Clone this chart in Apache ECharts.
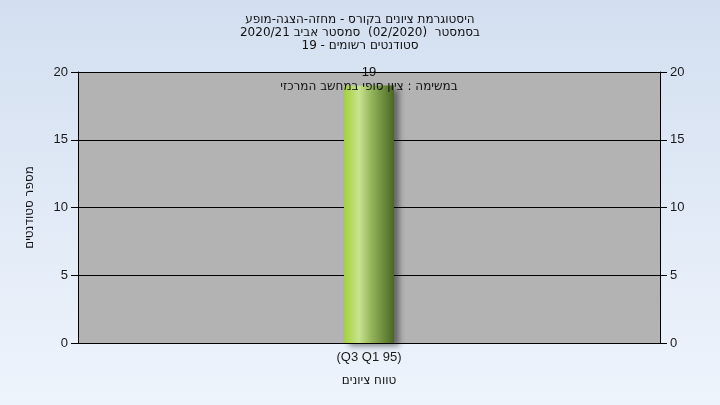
<!DOCTYPE html>
<html lang="he">
<head>
<meta charset="UTF-8">
<title>היסטוגרמת ציונים</title>
<script src="https://cdn.jsdelivr.net/npm/echarts@6/dist/echarts.min.js"></script>
<style>
  html, body { margin: 0; padding: 0; }
  body {
    width: 720px; height: 405px;
    background: linear-gradient(to bottom, #d3dff0, #eef4fc);
  }
  #main { width: 720px; height: 405px; }
</style>
</head>
<body>
<div id="main"></div>
<script>
  // נתונים
  const categories = ['(Q3 Q1 95)'];
  const counts = [19];
  const yTicks = { min: 0, max: 20, interval: 5 };
  const titleLines = [
    'היסטוגרמת ציונים בקורס - מחזה-הצגה-מופע',
    'בסמסטר  (02/2020)  סמסטר אביב 2020/21',
    'סטודנטים רשומים - 19'
  ];
  const barNote = 'במשימה : ציון סופי במחשב המרכזי';

  const chart = echarts.init(document.getElementById('main'));
  const axisText = { color: '#1a1a1a', fontFamily: 'Liberation Sans, Arial, sans-serif', fontSize: 13 };

  const yAxisCommon = {
    type: 'value',
    min: yTicks.min, max: yTicks.max, interval: yTicks.interval,
    axisLine: { show: true, lineStyle: { color: '#000', width: 1 } },
    axisTick: { show: true, inside: false, length: 7, lineStyle: { color: '#000' } },
    axisLabel: Object.assign({ margin: 10 }, axisText)
  };

  chart.setOption({
    backgroundColor: 'transparent',
    title: {
      text: titleLines.join('\n'),
      left: 'center', top: 8,
      textStyle: { fontSize: 12, fontWeight: 'normal', color: '#111', lineHeight: 13, fontFamily: 'DejaVu Sans, sans-serif' }
    },
    grid: { left: 78, right: 60, top: 72, bottom: 62, show: true, backgroundColor: '#b3b3b3', borderWidth: 0 },
    xAxis: {
      type: 'category',
      data: categories,
      name: 'טווח ציונים',
      nameLocation: 'middle',
      nameGap: 32,
      nameTextStyle: { fontSize: 12, color: '#111', fontFamily: 'DejaVu Sans, sans-serif' },
      axisLine: { lineStyle: { color: '#000' } },
      axisTick: { alignWithLabel: true, length: 5, lineStyle: { color: '#000' } },
      axisLabel: Object.assign({ margin: 8 }, axisText)
    },
    yAxis: [
      Object.assign({}, yAxisCommon, {
        position: 'left',
        name: 'מספר סטודנטים',
        nameLocation: 'middle',
        nameGap: 42,
        nameTextStyle: { fontSize: 12, color: '#111', fontFamily: 'DejaVu Sans, sans-serif' },
        splitLine: { show: true, lineStyle: { color: '#000', width: 1 } }
      }),
      Object.assign({}, yAxisCommon, {
        position: 'right',
        splitLine: { show: false }
      })
    ],
    series: [
      {
        type: 'bar',
        data: counts,
        barWidth: 50,
        itemStyle: {
          color: new echarts.graphic.LinearGradient(0, 0, 1, 0, [
            { offset: 0, color: '#a4d03c' },
            { offset: 0.3, color: '#c8e48e' },
            { offset: 0.55, color: '#94b45a' },
            { offset: 1, color: '#4a6824' }
          ]),
          shadowColor: 'rgba(0,0,0,0.45)',
          shadowBlur: 6,
          shadowOffsetX: 5,
          shadowOffsetY: 3
        },
        label: {
          show: true,
          position: 'top',
          distance: 4,
          formatter: '{v|{c}}\n{n|' + barNote + '}',
          rich: {
            v: { fontSize: 13, color: '#111', align: 'center', lineHeight: 14, fontFamily: 'Liberation Sans, Arial, sans-serif' },
            n: { fontSize: 12, color: '#111', align: 'center', lineHeight: 14, fontFamily: 'DejaVu Sans, sans-serif' }
          },
          offset: [0, 12]
        }
      }
    ],
    animation: false
  });
</script>
</body>
</html>
